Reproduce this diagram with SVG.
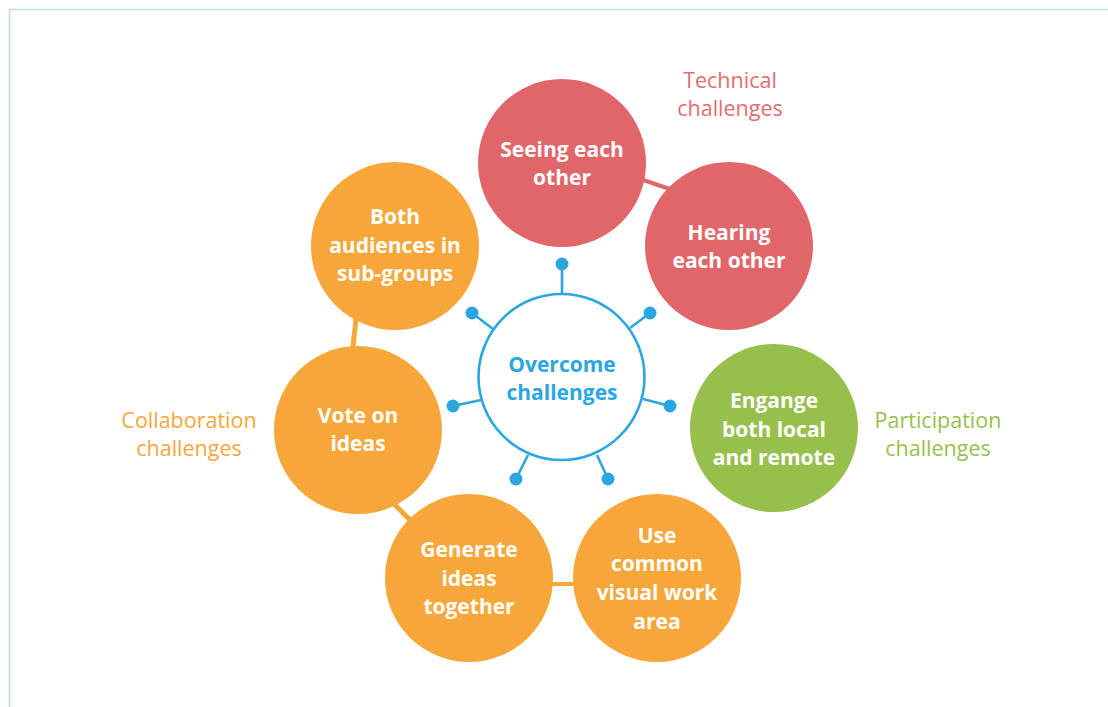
<svg xmlns="http://www.w3.org/2000/svg" width="1108" height="707" viewBox="0 0 1108 707">
<style>
.red{fill:#E1666A}
.org{fill:#F7A739}
.grn{fill:#97BF4C}
.t{font-family:"Open Sans","Noto Sans",sans-serif;font-weight:bold;font-size:21px;fill:#fff;text-anchor:middle}
.lbl{font-family:"Open Sans","Noto Sans",sans-serif;font-size:21.5px;text-anchor:middle}
.spoke{stroke:#2CA6E0;stroke-width:2.6;fill:none}
.dot{fill:#2CA6E0}
</style>
<rect width="1108" height="707" fill="#fff"/>
<path d="M9.5 707 V9.5 H1108" fill="none" stroke="#BCDDF2" stroke-width="1.6"/>
<g id="connectors">
<line x1="620" y1="172" x2="690" y2="196" stroke="#E1666A" stroke-width="4"/>
<line x1="358" y1="300" x2="351" y2="365" stroke="#F7A739" stroke-width="5"/>
<line x1="380" y1="490" x2="420" y2="530" stroke="#F7A739" stroke-width="5"/>
<line x1="540" y1="584" x2="590" y2="584" stroke="#F7A739" stroke-width="4"/>
</g>
<g id="center">
<g class="spoke">
<line x1="562" y1="264" x2="562" y2="293"/>
<line x1="472" y1="313" x2="493" y2="329"/>
<line x1="650" y1="313" x2="630" y2="328"/>
<line x1="453" y1="406" x2="481" y2="400"/>
<line x1="670" y1="406" x2="643" y2="399"/>
<line x1="516" y1="479" x2="528" y2="455"/>
<line x1="608" y1="479" x2="597" y2="455"/>
</g>
<g class="dot">
<circle cx="562" cy="264" r="6.5"/>
<circle cx="472" cy="313" r="6.5"/>
<circle cx="650" cy="313" r="6.5"/>
<circle cx="453" cy="406" r="6.5"/>
<circle cx="670" cy="406" r="6.5"/>
<circle cx="516" cy="479" r="6.5"/>
<circle cx="608" cy="479" r="6.5"/>
</g>
<circle cx="561.5" cy="377" r="83" fill="#fff" stroke="#2CA6E0" stroke-width="2.6"/>
<text class="t" style="fill:#2CA6E0"><tspan x="562" y="372">Overcome</tspan><tspan x="562" y="400">challenges</tspan></text>
</g>
<g id="seeing">
<circle class="red" cx="562" cy="163" r="84"/>
<text class="t"><tspan x="562" y="157">Seeing each</tspan><tspan x="562" y="185">other</tspan></text>
</g>
<g id="hearing">
<circle class="red" cx="729" cy="246" r="84"/>
<text class="t"><tspan x="729" y="240">Hearing</tspan><tspan x="729" y="268">each other</tspan></text>
</g>
<g id="engange">
<circle class="grn" cx="774" cy="428" r="84"/>
<text class="t"><tspan x="774" y="408">Engange</tspan><tspan x="774" y="437">both local</tspan><tspan x="774" y="465">and remote</tspan></text>
</g>
<g id="common">
<circle class="org" cx="657" cy="578" r="84"/>
<text class="t"><tspan x="657" y="543">Use</tspan><tspan x="657" y="571">common</tspan><tspan x="657" y="600">visual work</tspan><tspan x="657" y="629">area</tspan></text>
</g>
<g id="generate">
<circle class="org" cx="469" cy="578" r="84"/>
<text class="t"><tspan x="469" y="557">Generate</tspan><tspan x="469" y="586">ideas</tspan><tspan x="469" y="614">together</tspan></text>
</g>
<g id="vote">
<circle class="org" cx="358" cy="430" r="84"/>
<text class="t"><tspan x="358" y="423">Vote on</tspan><tspan x="358" y="451">ideas</tspan></text>
</g>
<g id="both">
<circle class="org" cx="395" cy="246" r="84"/>
<text class="t"><tspan x="395" y="224">Both</tspan><tspan x="395" y="253">audiences in</tspan><tspan x="395" y="281">sub-groups</tspan></text>
</g>
<g id="labels">
<text class="lbl" fill="#E36C70"><tspan x="730" y="88">Technical</tspan><tspan x="730" y="116">challenges</tspan></text>
<text class="lbl" fill="#F5A73B"><tspan x="189" y="428">Collaboration</tspan><tspan x="189" y="456">challenges</tspan></text>
<text class="lbl" fill="#97BF4C"><tspan x="938" y="428">Participation</tspan><tspan x="938" y="456">challenges</tspan></text>
</g>
</svg>
